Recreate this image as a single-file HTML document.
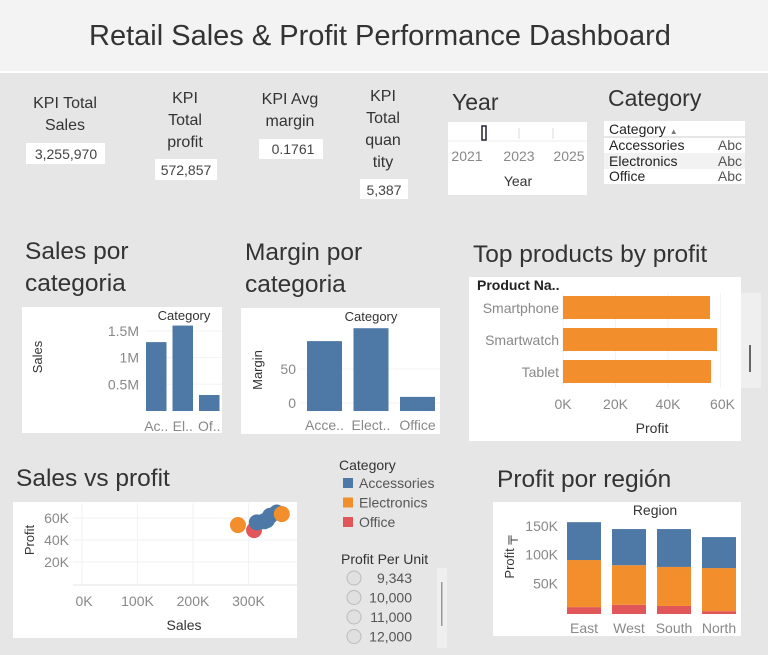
<!DOCTYPE html>
<html><head><meta charset="utf-8">
<style>
html,body{margin:0;padding:0;background:#e6e6e6;width:768px;height:655px;overflow:hidden}
svg{display:block;font-family:"Liberation Sans",sans-serif}
</style></head>
<body>
<svg id="root" width="768" height="655" viewBox="0 0 768 655">
<rect x="0" y="0" width="768" height="71" fill="#f3f3f3"/>
<rect x="0" y="71" width="768" height="2" fill="#ffffff"/>
<text x="380" y="45" text-anchor="middle" font-size="29" fill="#333">Retail Sales &amp; Profit Performance Dashboard</text>

<g font-size="16" fill="#333" text-anchor="middle">
<text x="65" y="108">KPI Total</text>
<text x="65" y="130">Sales</text>
<rect x="26" y="143" width="79" height="21" fill="#fff"/>
<text x="66" y="159" font-size="14" fill="#444">3,255,970</text>

<text x="185" y="103">KPI</text>
<text x="185" y="125">Total</text>
<text x="185" y="147">profit</text>
<rect x="155" y="159" width="62" height="21" fill="#fff"/>
<text x="186" y="175" font-size="14" fill="#444">572,857</text>

<text x="290" y="104">KPI Avg</text>
<text x="290" y="126">margin</text>
<rect x="259" y="139" width="64" height="20" fill="#fff"/>
<text x="293" y="154" font-size="14" fill="#444">0.1761</text>

<text x="383" y="101">KPI</text>
<text x="383" y="123">Total</text>
<text x="383" y="145">quan</text>
<text x="383" y="167">tity</text>
<rect x="360" y="179" width="48" height="20" fill="#fff"/>
<text x="384" y="195" font-size="14" fill="#444">5,387</text>
</g>

<text x="452" y="110" font-size="23" fill="#333">Year</text>
<rect x="448" y="122" width="139" height="73" fill="#fff"/>
<line x1="448" y1="141" x2="587" y2="141" stroke="#eee"/>
<line x1="519" y1="128" x2="519" y2="139" stroke="#ddd"/>
<line x1="553" y1="128" x2="553" y2="139" stroke="#ddd"/>
<rect x="482" y="126" width="4" height="14" fill="#fff" stroke="#223" stroke-width="1.5"/>
<g font-size="14" fill="#888" text-anchor="middle">
<text x="467" y="161">2021</text>
<text x="519" y="161">2023</text>
<text x="569" y="161">2025</text>
</g>
<text x="518" y="186" font-size="14" fill="#333" text-anchor="middle">Year</text>

<text x="608" y="106" font-size="23" fill="#333">Category</text>
<rect x="604" y="121" width="141" height="63" fill="#fff"/>
<line x1="604" y1="137" x2="745" y2="137" stroke="#ccc"/>
<rect x="604" y="153" width="141" height="16" fill="#f2f2f2"/>
<g font-size="14" fill="#222">
<text x="609" y="134">Category <tspan font-size="8" fill="#777">▲</tspan></text>
<text x="609" y="150">Accessories</text>
<text x="609" y="166">Electronics</text>
<text x="609" y="181">Office</text>
</g>
<g font-size="14" fill="#555" text-anchor="end">
<text x="742" y="150">Abc</text>
<text x="742" y="166">Abc</text>
<text x="742" y="181">Abc</text>
</g>

<g font-size="24.5" fill="#333">
<text x="25" y="259">Sales por</text>
<text x="25" y="291">categoria</text>
<text x="245" y="260">Margin por</text>
<text x="245" y="292">categoria</text>
<text x="473" y="262">Top products by profit</text>
<text x="16" y="486">Sales vs profit</text>
<text x="497" y="487">Profit por región</text>
</g>

<rect x="22" y="307" width="200" height="126" fill="#fff"/>
<rect x="241" y="308" width="199" height="126" fill="#fff"/>
<rect x="469" y="277" width="272" height="164" fill="#fff"/>
<rect x="741" y="293" width="20" height="95" fill="#efefef"/>
<rect x="749" y="345" width="2" height="27" fill="#666"/>
<rect x="13" y="502" width="284" height="136" fill="#fff"/>
<rect x="493" y="502" width="248" height="134" fill="#fff"/>

<g id="sales"></g>
<g id="margin"></g>
<g id="products"></g>
<g id="scatter"></g>
<g id="region"></g>

<text x="339" y="470" font-size="14" fill="#333">Category</text>
<g id="legend"></g>

<text x="341" y="564" font-size="14" fill="#333">Profit Per Unit</text>
<rect x="437" y="568" width="10" height="80" fill="#efefef"/>
<rect x="441" y="582" width="1.5" height="44" fill="#999"/>
<g id="ppu"></g>
</svg>

<script>
const NS='http://www.w3.org/2000/svg';
function mk(parent,tag,attrs,txt){const e=document.createElementNS(NS,tag);for(const k in attrs)e.setAttribute(k,attrs[k]);if(txt!==undefined)e.textContent=txt;parent.appendChild(e);return e;}
const BLUE='#4e79a7',ORANGE='#f28e2b',RED='#e15759';

const salesCats=['Ac..','El..','Of..'];
const salesVals=[1.29,1.6,0.3];
const salesTicks=[0.5,1,1.5];
const salesTickLabels=['0.5M','1M','1.5M'];
const marginCats=['Acce..','Elect..','Office'];
const marginVals=[91,110,9];
const marginTicks=[0,50];
const productNames=['Smartphone','Smartwatch','Tablet'];
const productProfit=[56,58.7,56.4];
const productTicks=[0,20,40,60];
const scatterSales=[281,310,315,328,333,339,351,360];
const scatterProfit=[53.6,49,56,57,58,62,65,63.6];
const scatterCat=['Electronics','Office','Accessories','Accessories','Accessories','Accessories','Accessories','Electronics'];
const scatterXTicks=[0,100,200,300];
const scatterYTicks=[20,40,60];
const regions=['East','West','South','North'];
const regionOffice=[12,16,14,5];
const regionElectronics=[82,69,68,75];
const regionAccessories=[66,63,66,54];
const regionTicks=[50,100,150];
const legendCats=['Accessories','Electronics','Office'];
const ppuValues=['9,343','10,000','11,000','12,000'];

const catColor={Accessories:BLUE,Electronics:ORANGE,Office:RED};

(function(){
 const g=document.getElementById('sales');
 const y=v=>411-v*53.4;
 const x0=146,step=26.5,bw=20.5;
 let t=mk(g,'text',{x:184,y:320,'font-size':13,fill:'#333','text-anchor':'middle'},'Category');
 
 t=mk(g,'text',{x:42,y:357,'font-size':13,fill:'#333','text-anchor':'middle',transform:'rotate(-90 42 357)'},'Sales');
 
 salesTicks.forEach((v,i)=>{
  const l=mk(g,'line',{x1:x0,x2:222,y1:y(v),y2:y(v),stroke:'#f3f3f3'});
  
  const tx=mk(g,'text',{x:139,y:y(v)+5,'font-size':14,fill:'#888','text-anchor':'end'},salesTickLabels[i]);
  
 });
 salesCats.forEach((c,i)=>{
  const r=mk(g,'rect',{x:x0+i*step,y:y(salesVals[i]),width:bw,height:y(0)-y(salesVals[i]),fill:BLUE});
  
  const tx=mk(g,'text',{x:x0+i*step+bw/2,y:431,'font-size':14,fill:'#888','text-anchor':'middle'},c);
  
 });
})();

(function(){
 const g=document.getElementById('margin');
 const base=411,s=0.68,y=v=>403-v*s;
 const x0=307,step=46.5,bw=35;
 let t=mk(g,'text',{x:371,y:321,'font-size':13,fill:'#333','text-anchor':'middle'},'Category');
 
 t=mk(g,'text',{x:262,y:370,'font-size':13,fill:'#333','text-anchor':'middle',transform:'rotate(-90 262 370)'},'Margin');
 
 marginTicks.forEach(v=>{
  const l=mk(g,'line',{x1:300,x2:440,y1:y(v),y2:y(v),stroke:'#f3f3f3'});
  
  const tx=mk(g,'text',{x:296,y:y(v)+5,'font-size':14,fill:'#888','text-anchor':'end'},String(v));
  
 });
 marginCats.forEach((c,i)=>{
  const top=y(marginVals[i]);
  const r=mk(g,'rect',{x:x0+i*step,y:top,width:bw,height:base-top,fill:BLUE});
  
  const tx=mk(g,'text',{x:x0+i*step+bw/2,y:430,'font-size':14,fill:'#888','text-anchor':'middle'},c);
  
 });
})();

(function(){
 const g=document.getElementById('products');
 const x=v=>563+v*2.625;
 let t=mk(g,'text',{x:477,y:290,'font-size':14,fill:'#222','font-weight':'bold'},'Product Na..');
 
 productTicks.forEach(v=>{
  const l=mk(g,'line',{x1:x(v),x2:x(v),y1:293,y2:388,stroke:'#f3f3f3'});
  
  const tx=mk(g,'text',{x:x(v)+(v===60?2:0),y:409,'font-size':14,fill:'#888','text-anchor':'middle'},v+'K');
  
 });
 productNames.forEach((n,i)=>{
  const yy=296+i*32;
  const r=mk(g,'rect',{x:x(0),y:yy,width:x(productProfit[i])-x(0),height:23,fill:ORANGE});
  
  const tx=mk(g,'text',{x:559,y:yy+17,'font-size':14,fill:'#888','text-anchor':'end'},n);
  
 });
 t=mk(g,'text',{x:652,y:433,'font-size':14,fill:'#333','text-anchor':'middle'},'Profit');
 
})();

(function(){
 const g=document.getElementById('scatter');
 const x=v=>82+v*0.555, y=v=>584-v*1.1;
 scatterXTicks.forEach(v=>{
  const l=mk(g,'line',{x1:x(v),x2:x(v),y1:503,y2:585,stroke:'#f2f2f2'});
  
  const tx=mk(g,'text',{x:x(v)+(v?0:2),y:606,'font-size':14,fill:'#888','text-anchor':'middle'},v+'K');
  
 });
 scatterYTicks.forEach(v=>{
  const l=mk(g,'line',{x1:73,x2:297,y1:y(v),y2:y(v),stroke:'#f2f2f2'});
  
  const tx=mk(g,'text',{x:69,y:y(v)+5,'font-size':14,fill:'#888','text-anchor':'end'},v+'K');
  
 });
 const bl=mk(g,'line',{x1:73,x2:297,y1:585,y2:585,stroke:'#e6e6e6'});
 
 scatterSales.forEach((s,i)=>{
  const c=mk(g,'circle',{cx:x(s),cy:y(scatterProfit[i]),r:8,fill:catColor[scatterCat[i]]});
  
 });
 let t=mk(g,'text',{x:184,y:630,'font-size':14,fill:'#333','text-anchor':'middle'},'Sales');
 
 t=mk(g,'text',{x:34,y:540,'font-size':13,fill:'#333','text-anchor':'middle',transform:'rotate(-90 34 540)'},'Profit');
 
})();

(function(){
 const g=document.getElementById('region');
 const base=614, y=v=>base-v*0.574;
 const x0=567,step=45,bw=34;
 let t=mk(g,'text',{x:655,y:515,'font-size':14,fill:'#333','text-anchor':'middle'},'Region');
 
 t=mk(g,'text',{x:514,y:557,'font-size':13,fill:'#333','text-anchor':'middle',transform:'rotate(-90 514 557)'},'Profit ╤');
 
 regionTicks.forEach(v=>{
  const tx=mk(g,'text',{x:558,y:y(v)+3,'font-size':14,fill:'#888','text-anchor':'end'},v+'K');
  
 });
 regions.forEach((r,i)=>{
  const xx=x0+i*step;
  const o=regionOffice[i],e=regionElectronics[i],a=regionAccessories[i];
  let b=mk(g,'rect',{x:xx,y:y(o),width:bw,height:base-y(o),fill:RED});
  
  b=mk(g,'rect',{x:xx,y:y(o+e),width:bw,height:y(o)-y(o+e),fill:ORANGE});
  
  b=mk(g,'rect',{x:xx,y:y(o+e+a),width:bw,height:y(o+e)-y(o+e+a),fill:BLUE});
  
  const tx=mk(g,'text',{x:xx+bw/2,y:633,'font-size':14,fill:'#888','text-anchor':'middle'},r);
  
 });
})();

(function(){
 const g=document.getElementById('legend');
 legendCats.forEach((c,i)=>{
  const yy=478+i*19.5;
  const r=mk(g,'rect',{x:343,y:yy,width:10,height:10,fill:catColor[c]});
  
  const t=mk(g,'text',{x:359,y:yy+10,'font-size':14,fill:'#555'},c);
  
 });
})();

(function(){
 const g=document.getElementById('ppu');
 ppuValues.forEach((v,i)=>{
  const yy=578+i*19.5;
  const c=mk(g,'circle',{cx:354,cy:yy,r:7,fill:'#e0e0e0',stroke:'#bbb'});
  
  const t=mk(g,'text',{x:412,y:yy+5,'font-size':14,fill:'#555','text-anchor':'end'},v);
  
 });
})();
</script>
</body></html>
